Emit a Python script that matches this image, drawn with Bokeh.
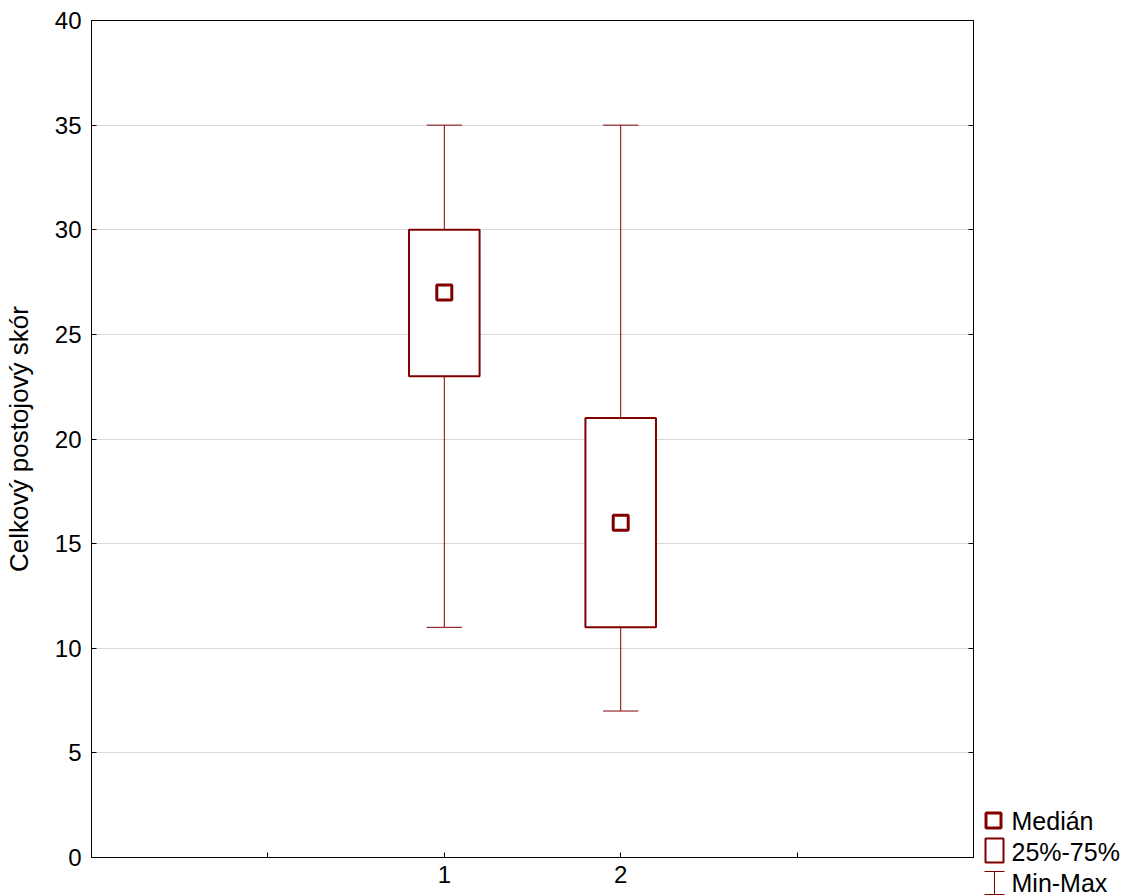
from bokeh.plotting import figure
from bokeh.models import Range1d, LinearAxis, FixedTicker, Spacer
from bokeh.layouts import row, column
from bokeh.embed import file_html
from bokeh.resources import INLINE
from bokeh.core.properties import value

# Data
groups = [1, 2]
mins = [11, 7]
q1s = [23, 11]
medians = [27, 16]
q3s = [30, 21]
maxs = [35, 35]
y_ticks = [0, 5, 10, 15, 20, 25, 30, 35, 40]
x_ticks = [0, 1, 2, 3]
x_labels = {0: "", 1: "1", 2: "2", 3: ""}
legend_labels = ["Medián", "25%-75%", "Min-Max"]
ylabel = "Celkový postojový skór"

RED = "#800000"
FONT = "Liberation Sans"

p = figure(width=975, height=895, output_backend="svg", toolbar_location=None,
           x_range=Range1d(-1, 4), y_range=Range1d(0, 40),
           min_border_left=91, min_border_right=2, min_border_top=20, min_border_bottom=38)
p.outline_line_color = "black"
p.outline_line_width = 1
p.background_fill_color = "white"
p.border_fill_color = "white"

p.xgrid.visible = False
p.ygrid.ticker = FixedTicker(ticks=y_ticks)
p.ygrid.grid_line_color = "#d9d9d9"
p.ygrid.grid_line_width = 1

# axes
p.xaxis.ticker = FixedTicker(ticks=x_ticks)
p.xaxis.major_label_overrides = x_labels
p.yaxis.ticker = FixedTicker(ticks=y_ticks)
for ax in [p.xaxis[0], p.yaxis[0]]:
    ax.major_tick_in = 5
    ax.major_tick_out = 0
    ax.minor_tick_in = 0
    ax.minor_tick_out = 0
    ax.axis_line_color = "black"
    ax.major_tick_line_color = "black"
    ax.major_label_text_font = FONT
    ax.major_label_text_font_size = "24px"
    ax.major_label_text_color = "black"
p.xaxis.major_label_standoff = 8
p.yaxis.major_label_standoff = 10
p.yaxis.axis_label = ylabel
p.yaxis.axis_label_text_font = FONT
p.yaxis.axis_label_text_font_size = "26px"
p.yaxis.axis_label_text_font_style = "normal"
p.yaxis.axis_label_text_color = "black"
p.yaxis.axis_label_standoff = 18

r_ax = LinearAxis(ticker=FixedTicker(ticks=y_ticks), major_label_text_font_size="0px",
                  major_tick_in=5, major_tick_out=0, minor_tick_in=0, minor_tick_out=0,
                  axis_line_color="black", major_tick_line_color="black")
r_ax.major_label_overrides = {t: "" for t in y_ticks}
p.add_layout(r_ax, "right")

box_w = 0.4
cap_w = 0.2
# whiskers
p.segment(x0=groups, y0=mins, x1=groups, y1=q1s, line_color=RED, line_width=1)
p.segment(x0=groups, y0=q3s, x1=groups, y1=maxs, line_color=RED, line_width=1)
p.segment(x0=[g - cap_w / 2 for g in groups], y0=mins, x1=[g + cap_w / 2 for g in groups], y1=mins,
          line_color=RED, line_width=1)
p.segment(x0=[g - cap_w / 2 for g in groups], y0=maxs, x1=[g + cap_w / 2 for g in groups], y1=maxs,
          line_color=RED, line_width=1)
# boxes
p.quad(left=[g - box_w / 2 for g in groups], right=[g + box_w / 2 for g in groups],
       bottom=q1s, top=q3s, fill_color="white", line_color=RED, line_width=2)
# medians
p.scatter(x=groups, y=medians, marker="square", size=15, fill_color="white",
          line_color=RED, line_width=3)

# legend figure
lf = figure(width=153, height=90, output_backend="svg", toolbar_location=None,
            x_range=Range1d(0, 153), y_range=Range1d(90, 0),
            min_border_left=0, min_border_right=0, min_border_top=0, min_border_bottom=0,
            x_axis_location=None, y_axis_location=None)
lf.outline_line_color = None
lf.xgrid.visible = False
lf.ygrid.visible = False
lf.background_fill_color = "white"
lf.border_fill_color = "white"

lf.scatter(x=[18], y=[15], marker="square", size=15, fill_color="white", line_color=RED, line_width=3)
lf.quad(left=[10], right=[28], top=[33], bottom=[57], fill_color="white", line_color=RED, line_width=2)
lf.segment(x0=[19], y0=[66], x1=[19], y1=[89], line_color=RED, line_width=1)
lf.segment(x0=[9], y0=[66], x1=[29], y1=[66], line_color=RED, line_width=1)
lf.segment(x0=[9], y0=[89], x1=[29], y1=[89], line_color=RED, line_width=1)
lf.text(x=[36, 36, 36], y=[15, 46, 77], text=legend_labels, text_font=value(FONT),
        text_font_size="25px", text_baseline="middle", text_align="left", text_color="black")

layout = row(p, column(Spacer(width=153, height=805), lf))
open("out.html", "w").write(file_html(layout, INLINE))
